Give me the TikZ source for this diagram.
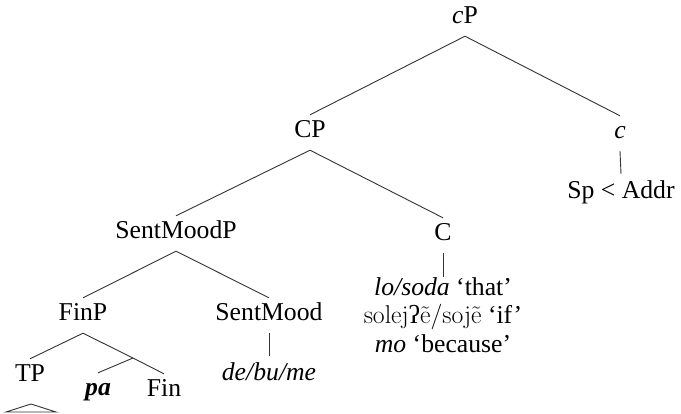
\documentclass[tikz,border=0pt]{standalone}
\usepackage{fontspec}
\setmainfont{Liberation Serif}
\newfontfamily\lmr{Latin Modern Roman}

\tikzset{
  cat/.style={anchor=base, inner sep=0pt, text height=22pt, text depth=13pt},
  leaf/.style={anchor=base, inner sep=0pt, text height=24pt, text depth=6pt},
  branch/.style={line width=0.9pt, black!80},
}

\begin{document}
\begin{tikzpicture}[x=1pt, y=-1pt, font=\fontsize{25.7}{28.5}\selectfont]
  \useasboundingbox (0,0) rectangle (681,413);
  % upper part of the tree
  \node[cat] (cP) at (465,23) {\textit{c}P};
  \node[cat] (CP) at (310,137) {CP};
  \node[cat] (c) at (620,138) {\textit{c}};
  \node[leaf] (addr) at (621,198) {Sp < Addr};
  \node[cat] (SMP) at (176,238) {SentMoodP};
  \node[cat] (C) at (443,240) {C};
  \node[inner sep=0pt, anchor=north, align=center] (Cw) at (443,277)
    {\textit{lo/soda} `that'\\ {\lmr solej}ʔ{\lmr ẽ/sojẽ} `if'\\ \textit{mo} `because'};
  % lower part
  \node[cat] (FinP) at (83,320) {FinP};
  \node[cat] (SM) at (269,320) {SentMood};
  \node[leaf] (SMw) at (269,380) {\textit{de/bu/me}};
  \node[cat] (TP) at (30,381) {TP};
  \node[cat] (pa) at (98,395) {\textbf{\textit{pa}}};
  \node[cat] (Fin) at (164,396) {Fin};
  \coordinate (Fbar) at (133,358);
  \coordinate (roof) at (31,404);

  \draw[branch] (cP.south) -- (CP.north);
  \draw[branch] (cP.south) -- (c.north);
  \draw[branch] (c.south) -- (addr.north);
  \draw[branch] (CP.south) -- (SMP.north);
  \draw[branch] (CP.south) -- (C.north);
  \draw[branch] (C.south) -- (Cw.north);
  \draw[branch] (SMP.south) -- (FinP.north);
  \draw[branch] (SMP.south) -- (SM.north);
  \draw[branch] (SM.south) -- (SMw.north);
  \draw[branch] (FinP.south) -- (TP.north);
  \draw[branch] (FinP.south) -- (Fbar) -- (Fin.north);
  \draw[branch] (Fbar) -- (pa.north);
  \draw[branch] (roof) -- (6,412) -- (56,412) -- cycle;
\end{tikzpicture}
\end{document}
